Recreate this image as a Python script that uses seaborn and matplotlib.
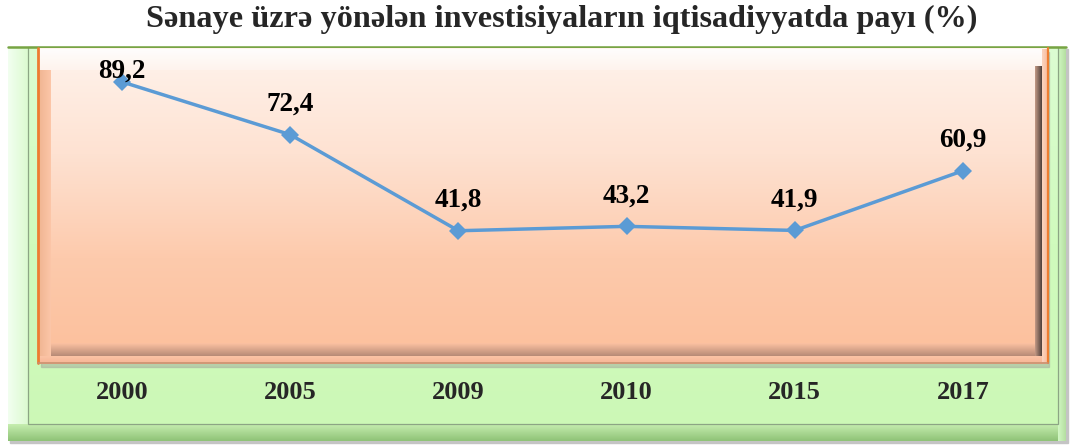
import numpy as np
import pandas as pd
import matplotlib
matplotlib.use("Agg")
import matplotlib.pyplot as plt
import seaborn as sns
from matplotlib.colors import LinearSegmentedColormap
from matplotlib.patches import Rectangle

# data
years = ["2000", "2005", "2009", "2010", "2015", "2017"]
share = [89.2, 72.4, 41.8, 43.2, 41.9, 60.9]
value_labels = ["89,2", "72,4", "41,8", "43,2", "41,9", "60,9"]
title = "Sənaye üzrə yönələn investisiyaların iqtisadiyyatda payı (%)"

W, H = 1070, 448

sns.set_theme(style="white")
plt.rcParams["font.family"] = ["Liberation Serif", "DejaVu Serif"]


def grad(ax, x0, x1, y0, y1, colors, z, vertical=True, alpha=1.0):
    cmap = LinearSegmentedColormap.from_list("g", colors)
    arr = np.linspace(0, 1, 256)
    arr = arr.reshape(-1, 1) if vertical else arr.reshape(1, -1)
    ax.imshow(arr, cmap=cmap, extent=(x0, x1, y1, y0), aspect="auto",
              zorder=z, interpolation="bilinear", alpha=alpha)


fig = plt.figure(figsize=(W / 100, H / 100), dpi=100)

# decoration layer in pixel coordinates
bg = fig.add_axes([0, 0, 1, 1])
bg.axis("off")

# green outer panel
bg.add_patch(Rectangle((10, 49), 1058, 394, color="#c4c4c4", zorder=0))  # drop shadow
grad(bg, 8, 1066, 47, 441, ["#dcfdd2", "#d0fbbd", "#ccf8b6"], 1)
grad(bg, 8, 28, 47, 441, ["#f2fff0", "#dcfad0"], 2, vertical=False)
grad(bg, 8, 1066, 424, 441, ["#c6eeb0", "#8ec276"], 2)
grad(bg, 1058, 1066, 47, 441, ["#d2f8c4", "#b4dea0"], 2, vertical=False)
bg.add_patch(Rectangle((28, 47), 1030, 377, fill=False, ec="#8ca584", lw=0.9, zorder=3))
bg.plot([8, 1066], [47.5, 47.5], color="#77a443", lw=1.8, zorder=4)

# orange inner panel
bg.add_patch(Rectangle((41, 52), 1008, 315, color="#a9b3a0", alpha=0.6, zorder=4))  # shadow
grad(bg, 38, 1049, 48, 364, ["#fff3ec", "#fee2d2", "#fdcaac", "#fcbf9b"], 5)
grad(bg, 40, 1046, 49, 70, ["#ffffff", "#fff4ee"], 6, alpha=0.9)
grad(bg, 39, 51, 70, 357, ["#f0b592", "#fcc6a8"], 6, vertical=False)
grad(bg, 51, 1035, 343, 356, ["#fcc2a2", "#b78a76"], 6)
grad(bg, 39, 1046, 356, 362, ["#fcc4a6", "#f7b898"], 6)
grad(bg, 1035, 1042, 66, 356, ["#c49a86", "#4e3f3a"], 6, vertical=False)
grad(bg, 1042, 1047, 49, 362, ["#fbd4c0", "#f9c0a2"], 6, vertical=False)
bg.plot([38, 38], [48, 363], color="#ed7d31", lw=2, zorder=7)
bg.plot([1047.5, 1047.5], [48, 363], color="#ed7d31", lw=1.6, zorder=7)
bg.plot([38, 1048], [362.8, 362.8], color="#c98f6f", lw=1.2, zorder=7)

bg.set_xlim(0, W)
bg.set_ylim(H, 0)

# chart axes
ax = fig.add_axes([38 / W, 1 - 362 / H, (1047 - 38) / W, (362 - 48) / H])
ax.patch.set_alpha(0)

df = pd.DataFrame({"year": years, "share": share})
sns.lineplot(data=df, x="year", y="share", sort=False, ax=ax,
             color="#5b9bd5", linewidth=2.5, marker="D", markersize=9,
             markeredgewidth=0)

offsets = [3, 17, 17, 17, 17, 17]
for i, (v, lab) in enumerate(zip(share, value_labels)):
    ax.annotate(lab, (i, v), xytext=(0, offsets[i]), textcoords="offset points",
                ha="center", va="baseline", fontsize=19.5, fontweight="bold",
                color="black", annotation_clip=False)

ax.set_xlim(-0.5, 5.5)
ax.set_ylim(0, 100)
ax.set_yticks([])
ax.set_xlabel("")
ax.set_ylabel("")
ax.tick_params(axis="x", length=0, pad=14, labelsize=19)
for t in ax.get_xticklabels():
    t.set_fontweight("bold")
for s in ax.spines.values():
    s.set_visible(False)

fig.text(562 / W, 1 - 19 / H, title, ha="center", va="center",
         fontsize=23.2, fontweight="bold")

fig.savefig("out.png", dpi=100)
